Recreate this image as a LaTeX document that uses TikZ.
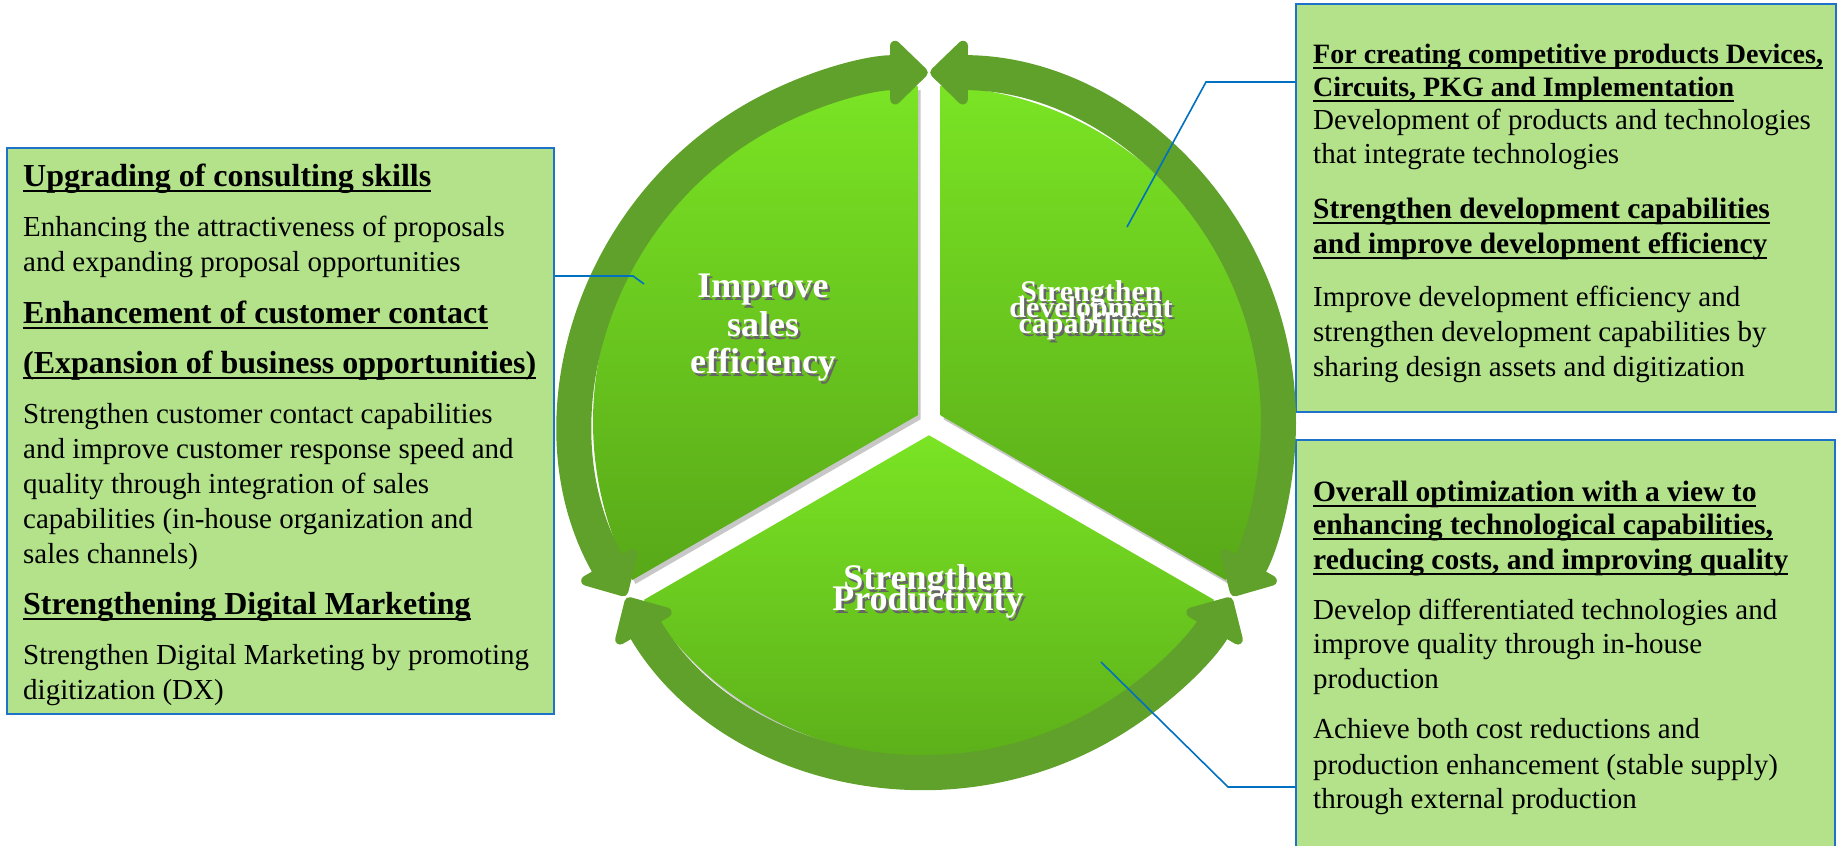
\documentclass[tikz,border=0pt]{standalone}
\usepackage{fontspec}
\setmainfont{Liberation Serif}
\usetikzlibrary{arrows.meta}
\definecolor{ringc}{RGB}{95,161,42}
\definecolor{pietop}{RGB}{122,228,36}
\definecolor{piebot}{RGB}{88,168,24}
\definecolor{boxfill}{RGB}{179,226,139}
\definecolor{boxline}{RGB}{30,115,200}
\definecolor{conn}{RGB}{0,112,192}
\newcommand\myul[1]{\setbox0\hbox{#1}\rlap{\rule[-5pt]{\wd0}{2.3pt}}\box0}
\newcommand\shtext[1]{\rlap{\kern2.5pt\raisebox{-2.5pt}{\textcolor{black!60}{#1}}}#1}
\begin{document}
\begin{tikzpicture}[x=1pt,y=1pt,
  boxst/.style={draw=boxline, line width=2pt, fill=boxfill, inner sep=0pt, anchor=south west},
  hd/.style={inner sep=0pt, anchor=base west, font=\fontsize{32}{35}\selectfont\bfseries},
  hdr/.style={inner sep=0pt, anchor=base west, font=\fontsize{28}{33}\selectfont\bfseries},
  hdrb/.style={inner sep=0pt, anchor=base west, font=\fontsize{29.5}{33}\selectfont\bfseries},
  bd/.style={inner sep=0pt, anchor=base west, font=\fontsize{29}{35}\selectfont},
  pietxt/.style={inner sep=0pt, anchor=base, text=white},
  connst/.style={draw=conn, line width=1.6pt},
  ringarrow/.style={draw=ringc, line width=35pt,
    {Triangle[length=40pt,width=75pt,round]}-{Triangle[length=40pt,width=75pt,round]}},
  shadowst/.style={fill=black, opacity=0.22, shift={(3,-4)}},
  pieshade/.style={top color=pietop, bottom color=piebot}
]
\useasboundingbox (0,0) rectangle (1837,846);
\coordinate (C) at (929,424);

% boxes
\node[boxst, minimum width=547pt, minimum height=566pt] (lbox) at (6,131) {};
\node[boxst, minimum width=540pt, minimum height=408pt] (rtbox) at (1295,433) {};
\node[boxst, minimum width=539pt, minimum height=430pt] (rbbox) at (1295,-25) {};

% pie sectors: shadows
\fill[shadowst] (917.5,430.64) -- ([shift={(C)}]91.96:336pt) arc[start angle=91.96, end angle=208.04, radius=336pt] -- cycle;
\fill[shadowst] (940.5,430.64) -- ([shift={(C)}]-28.04:336pt) arc[start angle=-28.04, end angle=88.04, radius=336pt] -- cycle;
\fill[shadowst] (929,410.72) -- ([shift={(C)}]211.96:336pt) arc[start angle=211.96, end angle=328.04, radius=336pt] -- cycle;
% pie sectors
\shade[pieshade] (917.5,430.64) -- ([shift={(C)}]91.96:336pt) arc[start angle=91.96, end angle=208.04, radius=336pt] -- cycle;
\shade[pieshade] (940.5,430.64) -- ([shift={(C)}]-28.04:336pt) arc[start angle=-28.04, end angle=88.04, radius=336pt] -- cycle;
\shade[pieshade] (929,410.72) -- ([shift={(C)}]211.96:336pt) arc[start angle=211.96, end angle=328.04, radius=336pt] -- cycle;

% ring arrows
\draw[ringarrow] ([shift={(C)}]209.8:349.5pt) arc[start angle=209.8, end angle=90.2, radius=349.5pt];
\draw[ringarrow] ([shift={(C)}]89.8:349.5pt) arc[start angle=89.8, end angle=-29.8, radius=349.5pt];
\draw[ringarrow] ([shift={(C)}]210.2:349.5pt) arc[start angle=210.2, end angle=329.8, radius=349.5pt];

% pie texts
\node[pietxt, font=\fontsize{36}{38}\selectfont\bfseries] (p1a) at (763,548) {\shtext{Improve}};
\node[pietxt, font=\fontsize{36}{38}\selectfont\bfseries] (p1b) at (763,509) {\shtext{sales}};
\node[pietxt, font=\fontsize{36}{38}\selectfont\bfseries] (p1c) at (763,472) {\shtext{efficiency}};
\node[pietxt, font=\fontsize{30}{32}\selectfont\bfseries] (p2a) at (1091,544) {\shtext{Strengthen}};
\node[pietxt, font=\fontsize{30}{32}\selectfont\bfseries] (p2b) at (1091,528.5) {\shtext{development}};
\node[pietxt, font=\fontsize{30}{32}\selectfont\bfseries] (p2c) at (1091,512) {\shtext{capabilities}};
\node[pietxt, font=\fontsize{36}{38}\selectfont\bfseries] (p3a) at (928,256) {\shtext{Strengthen}};
\node[pietxt, font=\fontsize{36}{38}\selectfont\bfseries] (p3b) at (928,235) {\shtext{Productivity}};

% left box text
\foreach \yy/\txt [count=\i] in {659/{Upgrading of consulting skills},
  522/{Enhancement of customer contact},
  472/{(Expansion of business opportunities)},
  231/{Strengthening Digital Marketing}}
  \node[hd, name=lh\i] at (23,\yy) {\myul{\txt}};
\foreach \yy/\txt [count=\i] in {609/{Enhancing the attractiveness of proposals},
  574/{and expanding proposal opportunities},
  422/{Strengthen customer contact capabilities},
  387/{and improve customer response speed and},
  352/{quality through integration of sales},
  317/{capabilities (in-house organization and},
  282/{sales channels)},
  181/{Strengthen Digital Marketing by promoting},
  146/{digitization (DX)}}
  \node[bd, name=lb\i] at (23,\yy) {\txt};

% right top box text
\foreach \yy/\txt [count=\i] in {782/{For creating competitive products Devices,},
  749/{Circuits, PKG and Implementation}}
  \node[hdr, name=th\i] at (1313,\yy) {\myul{\txt}};
\foreach \yy/\txt [count=\i] in {627/{Strengthen development capabilities},
  592/{and improve development efficiency}}
  \node[hdrb, name=tk\i] at (1313,\yy) {\myul{\txt}};
\foreach \yy/\txt [count=\i] in {716/{Development of products and technologies},
  682/{that integrate technologies},
  539/{Improve development efficiency and},
  504/{strengthen development capabilities by},
  469/{sharing design assets and digitization}}
  \node[bd, name=tb\i] at (1313,\yy) {\txt};

% right bottom box text
\foreach \yy/\txt [count=\i] in {344/{Overall optimization with a view to},
  311/{enhancing technological capabilities,},
  276/{reducing costs, and improving quality}}
  \node[hdrb, name=bh\i] at (1313,\yy) {\myul{\txt}};
\foreach \yy/\txt [count=\i] in {226/{Develop differentiated technologies and},
  192/{improve quality through in-house},
  157/{production},
  107/{Achieve both cost reductions and},
  71/{production enhancement (stable supply)},
  37/{through external production}}
  \node[bd, name=bb\i] at (1313,\yy) {\txt};

% connectors
\coordinate (k1) at (633,570); \coordinate (e1) at (644,562);
\draw[connst] (lbox.east |- k1) -- (k1) -- (e1);
\coordinate (k2) at (1206,764); \coordinate (e2) at (1127,619);
\draw[connst] (rtbox.west |- k2) -- (k2) -- (e2);
\coordinate (k3) at (1228,59); \coordinate (e3) at (1101,184);
\draw[connst] (rbbox.west |- k3) -- (k3) -- (e3);
\end{tikzpicture}
\end{document}
